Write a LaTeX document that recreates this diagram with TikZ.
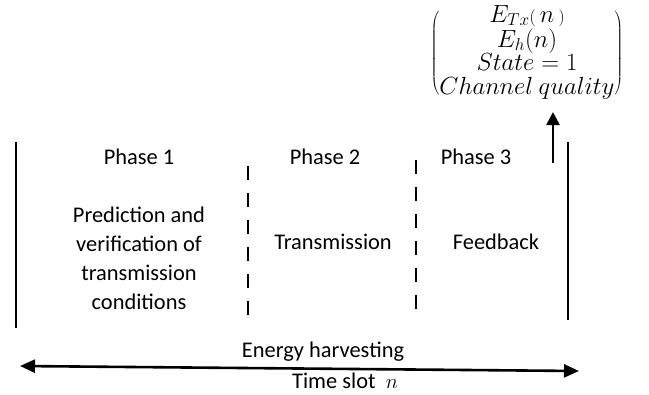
\documentclass[tikz,border=0pt]{standalone}
\usepackage{fontspec}
\setmainfont{Carlito}
\usetikzlibrary{arrows.meta}
\tikzset{
  lbl/.style={inner sep=0pt, font=\fontsize{22.5}{29}\selectfont, align=center},
  solidbar/.style={line width=2.6bp},
  dashbar/.style={line width=2.6bp, dash pattern=on 14bp off 13bp},
  feedarrow/.style={line width=2.6bp, -{Triangle[length=13bp,width=13bp]}},
  slotarrow/.style={line width=2.6bp, {Triangle[length=15bp,width=13bp]}-{Triangle[length=15bp,width=13bp]}}
}
\begin{document}
\begin{tikzpicture}[x=1bp,y=-1bp]
\useasboundingbox (0,0) rectangle (649,394);
% vertical bars
\coordinate (l1) at (16,142); \coordinate (l2) at (16,328);
\coordinate (d1a) at (248,166); \coordinate (d1b) at (248,318);
\coordinate (d2a) at (416,160); \coordinate (d2b) at (416,315);
\coordinate (r1) at (568,142); \coordinate (r2) at (568,320);
\draw[solidbar] (l1) -- (l2);
\draw[dashbar] (d1a) -- (d1b);
\draw[dashbar] (d2a) -- (d2b);
\draw[solidbar] (r1) -- (r2);
% phase labels
\node[lbl] (p1) at (139,157) {Phase 1};
\node[lbl] (p2) at (325,157) {Phase 2};
\node[lbl] (p3) at (476,157) {Phase 3};
\node[lbl] (t1) at (139,258) {Prediction and\\verification of\\transmission\\conditions};
\node[lbl] (t2) at (333,242) {Transmission};
\node[lbl] (t3) at (496,242) {Feedback};
% feedback vector
\node[inner sep=0pt, font=\fontsize{24.5}{21.5}\selectfont] (vec) at (527,53)
  {\delimiterfactor=850 \delimitershortfall=12pt
   $\left(\begin{array}{@{}c@{}}
     E_{Tx}{\scriptstyle(}\,n\,{\scriptstyle)}\\
     E_h(n)\\
     State=1\\
     Channel\ quality
   \end{array}\right)$};
\coordinate (fa) at (553,163);
\draw[feedarrow] (fa) -- (553,112);
% time slot arrow
\coordinate (sa) at (20,366);
\coordinate (sb) at (579,371);
\draw[slotarrow] (sa) -- (sb);
\node[lbl] (eh) at (323,352) {Energy harvesting};
\node[lbl] (ts) at (345,381) {Time slot\ \ $n$};
\end{tikzpicture}
\end{document}
